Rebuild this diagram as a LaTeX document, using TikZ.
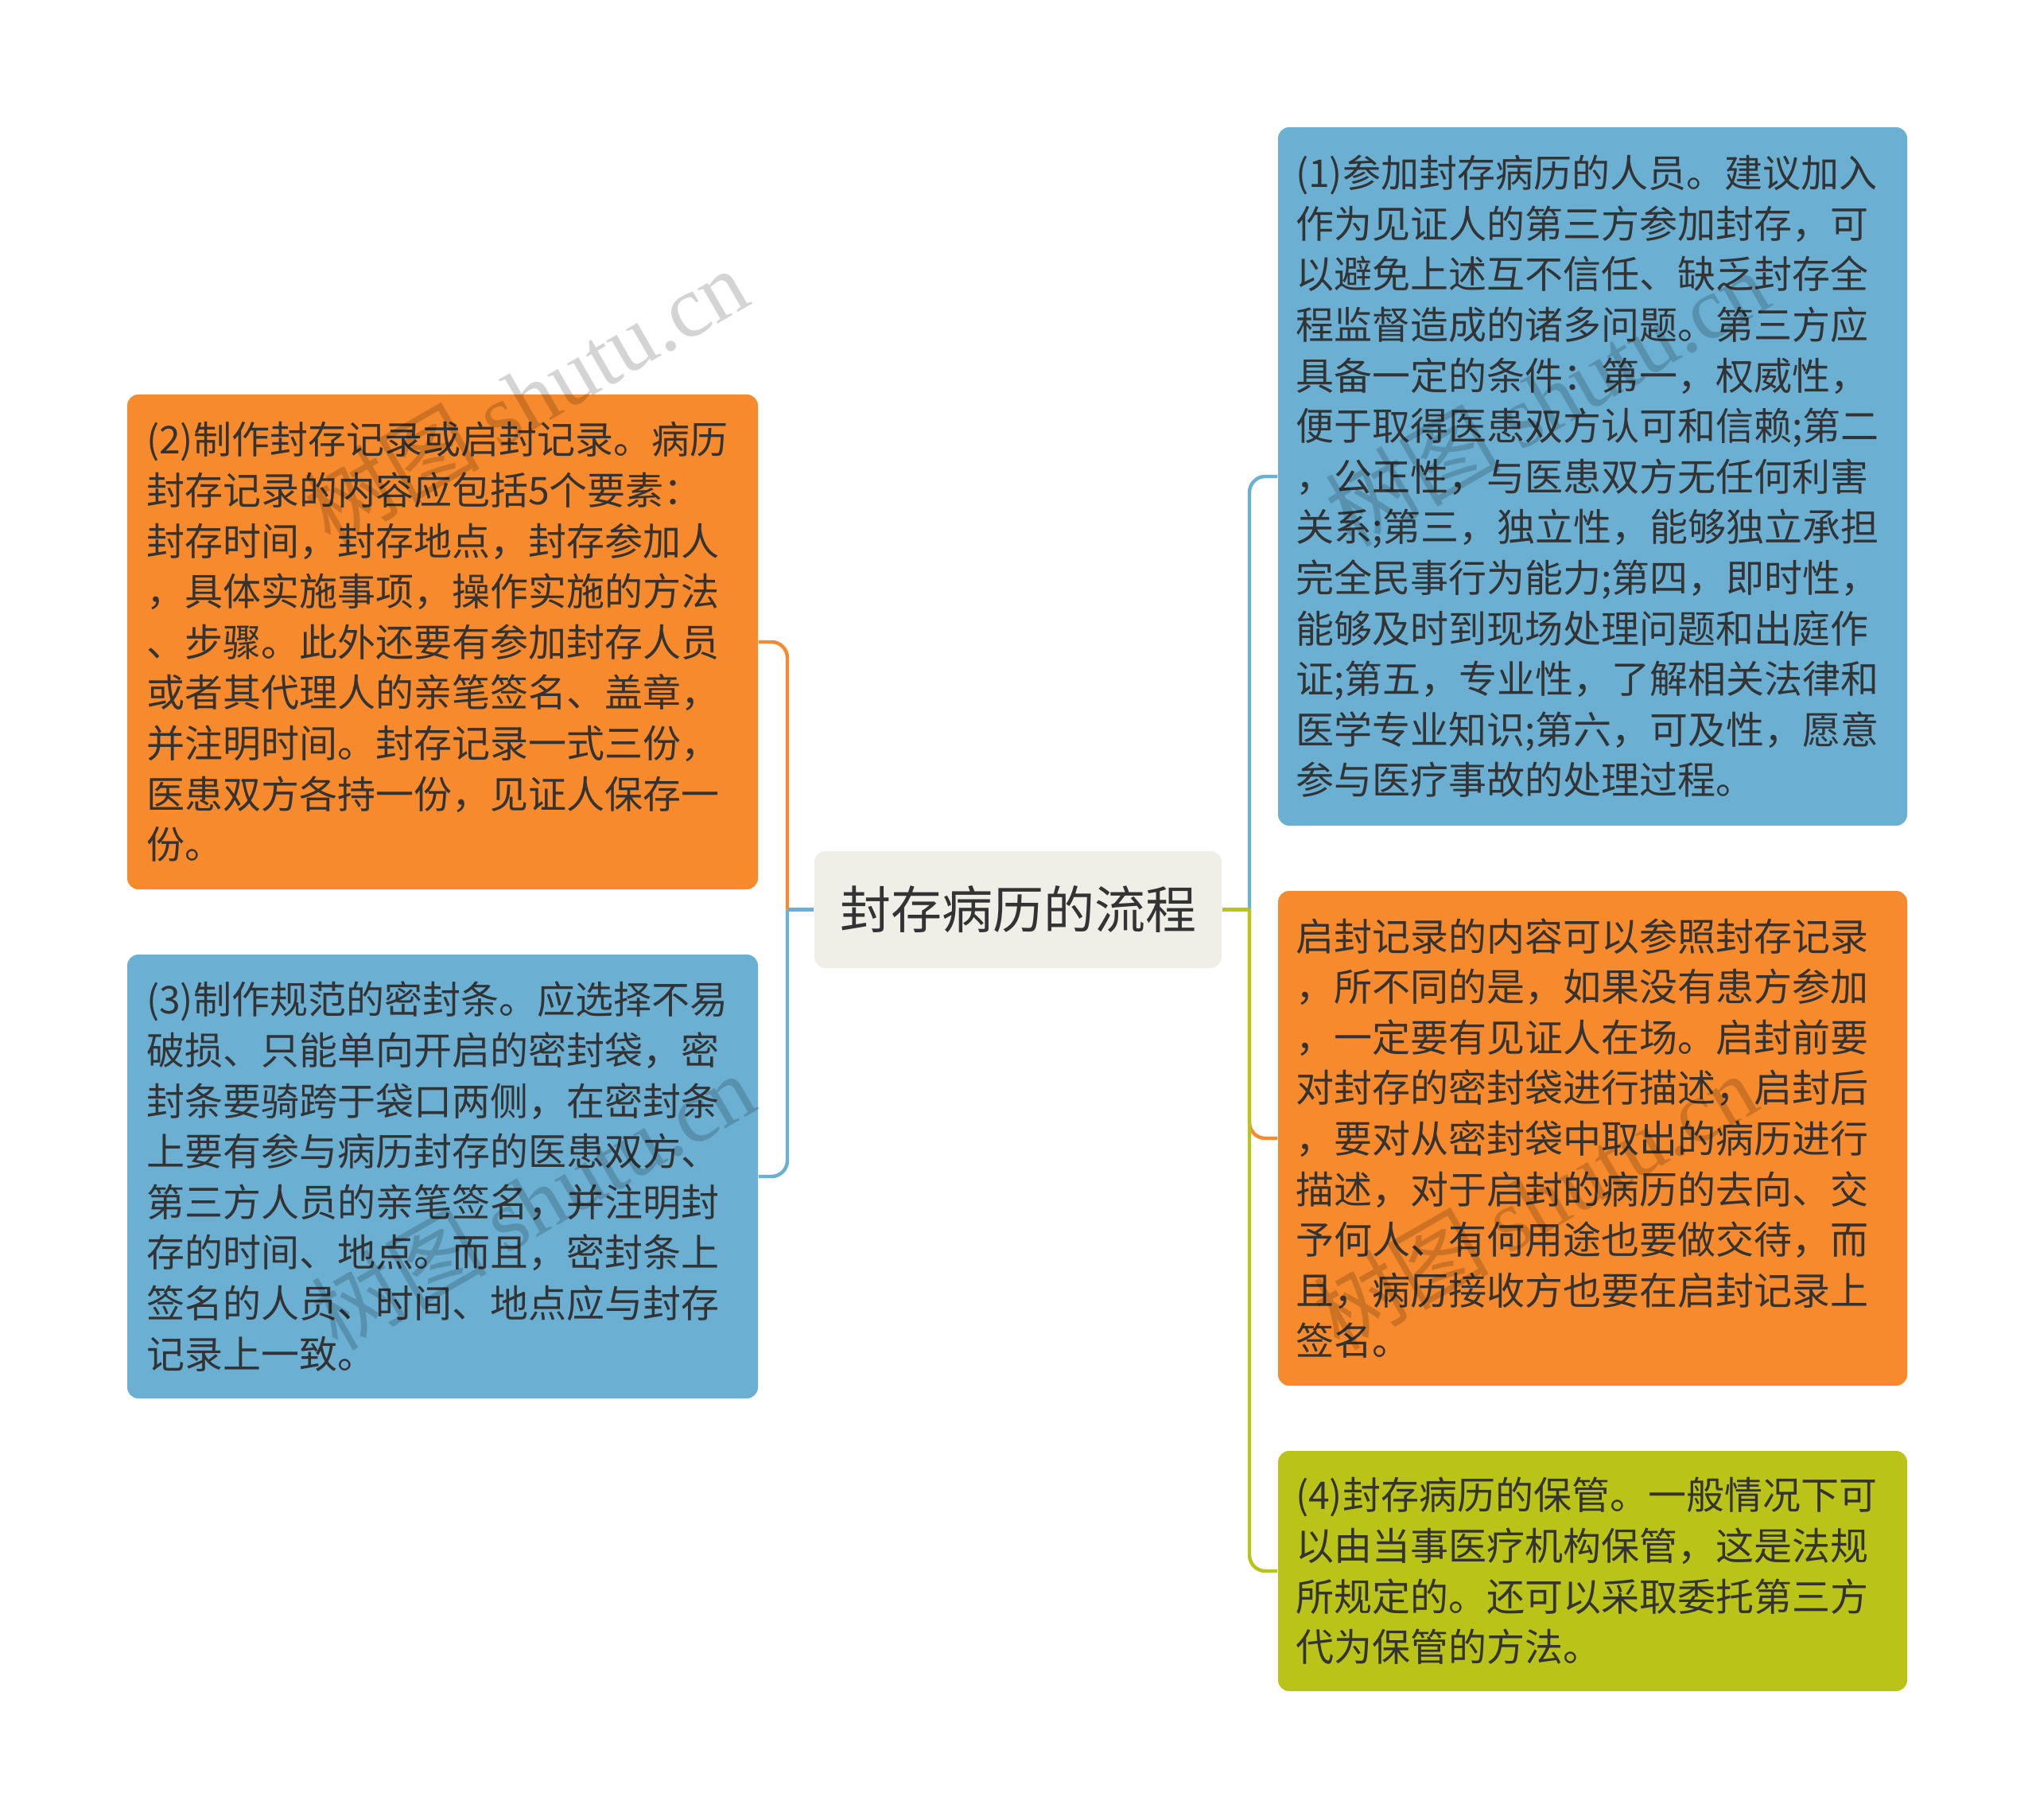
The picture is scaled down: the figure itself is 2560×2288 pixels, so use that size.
\documentclass[tikz,border=0pt]{standalone}
\usepackage{fontspec}
\setmainfont{Noto Sans CJK SC}
\newfontfamily\cjk{Noto Sans CJK SC}
\newfontfamily\wmlatin{Liberation Serif}
\definecolor{cOr}{HTML}{F68A2C}
\definecolor{cBl}{HTML}{6BAFD2}
\definecolor{cGr}{HTML}{BAC418}
\definecolor{cCe}{HTML}{EFEFE8}
\definecolor{txt}{HTML}{333333}
\tikzset{
  boxstyle/.style={rounded corners=3.5pt, inner xsep=6pt, inner ysep=0pt, align=left,
    text=txt, font=\fontsize{12pt}{15.9pt}\selectfont, minimum width=198.25pt, anchor=center},
  rboxstyle/.style={boxstyle, inner xsep=5.5pt, minimum width=197.75pt, text width=186.75pt},
  lboxstyle/.style={boxstyle, text width=186.25pt},
  centerstyle/.style={rounded corners=3.5pt, fill=cCe, text=txt, font=\fontsize{16pt}{19pt}\selectfont,
    minimum width=128pt, minimum height=36.75pt, inner sep=0pt, anchor=center},
  conn/.style={line width=1.1pt},
  elbow/.style={conn, rounded corners=5pt},
  wm/.style={rotate=30, text=black, text opacity=0.17, font=\fontsize{27.5pt}{30pt}\selectfont, inner sep=0pt}
}
\begin{document}
\begin{tikzpicture}[x=0.25pt,y=-0.25pt]
\useasboundingbox (0,0) rectangle (2560,2288);
\fill[white] (0,0) rectangle (2560,2288);

% nodes
\node[centerstyle] (c) at (1280,1143.5) {封存病历的流程};

\node[lboxstyle, fill=cOr, minimum height=155.5pt] (lo) at (556.5,807) {(2)制作封存记录或启封记录。病历\\封存记录的内容应包括5个要素：\\封存时间，封存地点，封存参加人\\，具体实施事项，操作实施的方法\\、步骤。此外还要有参加封存人员\\或者其代理人的亲笔签名、盖章，\\并注明时间。封存记录一式三份，\\医患双方各持一份，见证人保存一\\份。};

\node[lboxstyle, fill=cBl, minimum height=139.5pt] (lb) at (556.5,1479) {(3)制作规范的密封条。应选择不易\\破损、只能单向开启的密封袋，密\\封条要骑跨于袋口两侧，在密封条\\上要有参与病历封存的医患双方、\\第三方人员的亲笔签名，并注明封\\存的时间、地点。而且，密封条上\\签名的人员、时间、地点应与封存\\记录上一致。};

\node[rboxstyle, fill=cBl, minimum height=219.5pt] (rb) at (2002.5,599) {(1)参加封存病历的人员。建议加入\\作为见证人的第三方参加封存，可\\以避免上述互不信任、缺乏封存全\\程监督造成的诸多问题。第三方应\\具备一定的条件：第一，权威性，\\便于取得医患双方认可和信赖;第二\\，公正性，与医患双方无任何利害\\关系;第三，独立性，能够独立承担\\完全民事行为能力;第四，即时性，\\能够及时到现场处理问题和出庭作\\证;第五，专业性，了解相关法律和\\医学专业知识;第六，可及性，愿意\\参与医疗事故的处理过程。};

\node[rboxstyle, fill=cOr, minimum height=155.5pt] (ro) at (2002.5,1431) {启封记录的内容可以参照封存记录\\，所不同的是，如果没有患方参加\\，一定要有见证人在场。启封前要\\对封存的密封袋进行描述，启封后\\，要对从密封袋中取出的病历进行\\描述，对于启封的病历的去向、交\\予何人、有何用途也要做交待，而\\且，病历接收方也要在启封记录上\\签名。};

\node[rboxstyle, fill=cGr, minimum height=75.5pt] (rg) at (2002.5,1975) {(4)封存病历的保管。一般情况下可\\以由当事医疗机构保管，这是法规\\所规定的。还可以采取委托第三方\\代为保管的方法。};

% junctions
\coordinate (jl) at (990,1143.5);
\coordinate (jr) at (1571,1143.5);

% left connectors
\draw[conn, cBl] (c.west) -- (jl);
\draw[elbow, cBl] (jl) |- (lb.east);
\draw[elbow, cOr] (jl) |- (lo.east);

% right connectors
\draw[elbow, cBl] (jr) |- (rb.west);
\draw[elbow, cOr] (jr) |- (ro.west);
\draw[conn, cGr] (c.east) -- (jr);
\draw[elbow, cGr] (jr) |- (rg.west);

% watermarks
\node[wm] (wm1) at (661,498) {{\cjk 树图} {\wmlatin shutu.cn}};
\node[wm] (wm2) at (1945,500) {{\cjk 树图} {\wmlatin shutu.cn}};
\node[wm] (wm3) at (670,1510) {{\cjk 树图} {\wmlatin shutu.cn}};
\node[wm] (wm4) at (1930,1510) {{\cjk 树图} {\wmlatin shutu.cn}};
\end{tikzpicture}
\end{document}
